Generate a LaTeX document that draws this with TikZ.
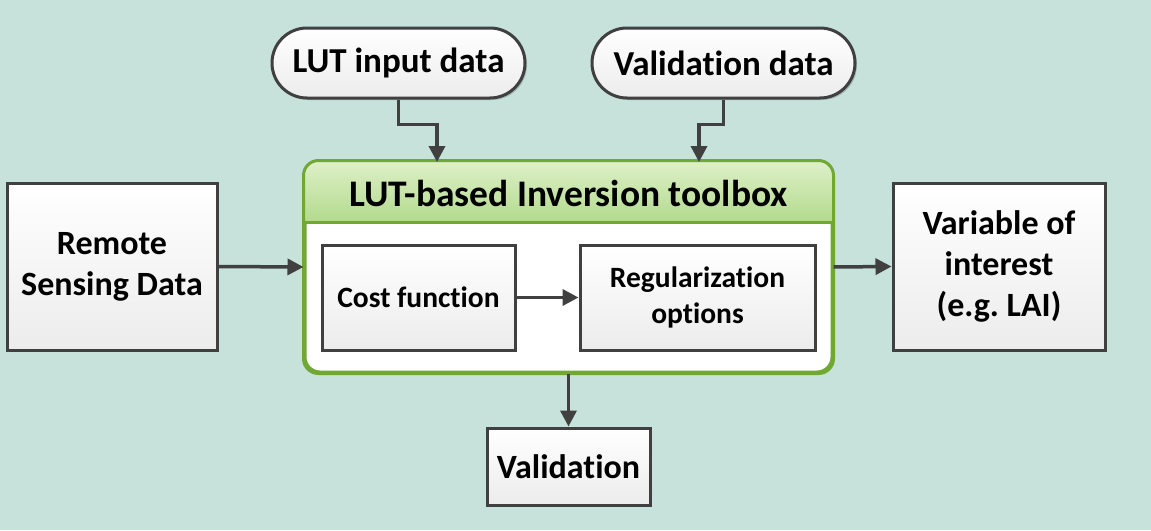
\documentclass[tikz,border=0pt]{standalone}
\usepackage{fontspec}
\setmainfont{Carlito}[Ligatures=NoCommon]
\usetikzlibrary{arrows.meta,shapes.misc,shadows,calc}
\definecolor{bgc}{RGB}{198,226,219}
\definecolor{edge}{RGB}{64,64,64}
\definecolor{grn}{RGB}{112,168,50}
\definecolor{hdtop}{RGB}{222,240,200}
\definecolor{hdbot}{RGB}{178,218,140}
\definecolor{boxbot}{RGB}{236,236,236}
\frenchspacing
\tikzset{
  shadowed/.style={drop shadow={shadow xshift=2pt,shadow yshift=-2pt,opacity=0.18,fill=black}},
  bigbox/.style={rectangle,draw=edge,line width=3pt,top color=white,bottom color=boxbot,
    align=center,inner sep=0pt,font=\bfseries\fontsize{34}{41}\selectfont,shadowed},
  smallbox/.style={rectangle,draw=edge,line width=3pt,top color=white,bottom color=boxbot,
    align=center,inner sep=0pt,font=\bfseries\fontsize{29.5}{36}\selectfont,shadowed},
  pill/.style={rounded rectangle,draw=edge,line width=3pt,top color=white,bottom color=boxbot,
    minimum width=253pt,minimum height=70pt,inner sep=0pt,font=\bfseries\fontsize{35}{40}\selectfont,shadowed},
  arr/.style={draw=edge,line width=3.5pt,-{Triangle[width=16pt,length=16pt]}},
  titletext/.style={font=\bfseries\fontsize{37.5}{42}\selectfont,inner sep=0pt}
}
\begin{document}
\begin{tikzpicture}[x=1pt,y=-1pt]
\fill[bgc] (0,0) rectangle (1151,530);
\useasboundingbox (0,0) rectangle (1151,530);

% top pills
\node[pill] (lut) at (398.5,63) {LUT input data};
\node[pill,minimum width=263pt] (vdata) at (723.5,63) {Validation data};

% toolbox container
\node[rectangle,rounded corners=15pt,draw=grn,line width=3pt,fill=white,
  minimum width=527pt,minimum height=210pt,inner sep=0pt,shadowed] (tb) at (568.5,267) {};
\begin{scope}
  \clip[rounded corners=15pt] (tb.north west) rectangle (tb.south east);
  \shade[top color=hdtop,bottom color=hdbot] (tb.north west) rectangle ($(tb.north east)+(0,62)$);
\end{scope}
\draw[grn,line width=3pt] ($(tb.north west)+(0,62)$) -- ($(tb.north east)+(0,62)$);
\draw[grn,line width=3pt,rounded corners=15pt] (tb.north west) rectangle (tb.south east);
\node[titletext] (title) at (568.5,193) {LUT-based Inversion toolbox};

% inner boxes
\node[smallbox,minimum width=193pt,minimum height=105pt] (cost) at (418.5,297.5) {Cost function};
\node[smallbox,minimum width=235pt,minimum height=105pt] (reg) at (697.5,297.5) {Regularization\\options};

% side boxes
\node[bigbox,minimum width=210pt,minimum height=167pt] (rsd) at (112,266.5) {Remote\\Sensing Data};
\node[bigbox,minimum width=212pt,minimum height=167pt] (voi) at (999,266.5) {Variable of\\interest\\(e.g. LAI)};
\node[bigbox,minimum width=163pt,minimum height=77pt] (val) at (568.5,466.5) {Validation};

% connectors
\coordinate (in1) at (437,162);
\coordinate (in2) at (699,162);
\draw[arr] (lut.south) -- ++(0,25) -| (in1);
\draw[arr] (vdata.south) -- ++(0,25) -| (in2);
\draw[arr] (rsd.east) -- (tb.west);
\draw[arr] (tb.east) -- (voi.west);
\draw[arr] (cost.east) -- (reg.west);
\draw[arr] (tb.south) -- (val.north);
\end{tikzpicture}
\end{document}
